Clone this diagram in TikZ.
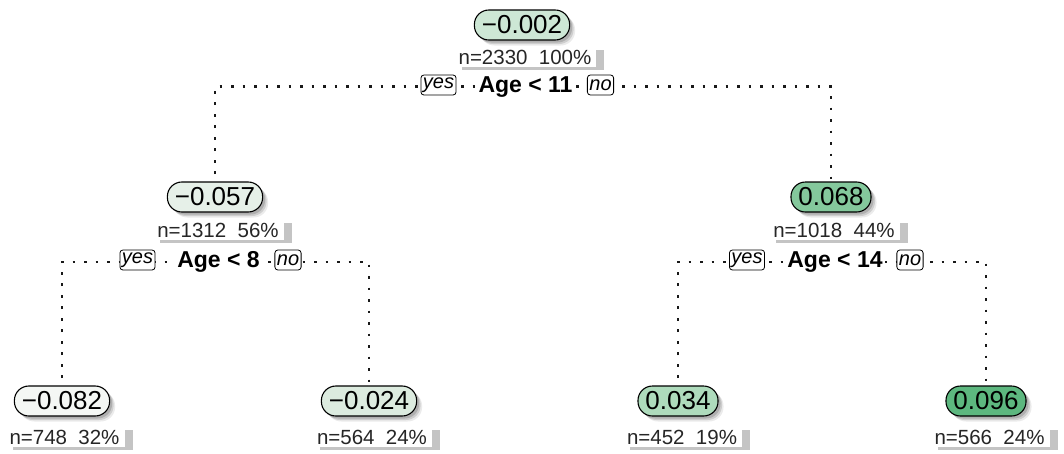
\documentclass[tikz,border=0pt]{standalone}
\usepackage{fontspec}
\setmainfont{Liberation Sans}
\usetikzlibrary{shadows}

% fill colours of the fitted values, from low to high
\definecolor{fitA}{HTML}{F4F7F4}
\definecolor{fitB}{HTML}{E6F0E8}
\definecolor{fitC}{HTML}{DCEBDF}
\definecolor{fitD}{HTML}{CDE7D5}
\definecolor{fitE}{HTML}{AEDBBC}
\definecolor{fitF}{HTML}{84C89C}
\definecolor{fitG}{HTML}{5DB77F}

\tikzset{
  fitbox/.style={
    rectangle, rounded corners=14.5pt, draw=black, line width=1.1pt,
    inner xsep=7.5pt, inner ysep=0pt, minimum height=30pt,
    font=\fontsize{26}{28}\selectfont,
    general shadow={fill=black, opacity=0.08, shadow xshift=5.5pt, shadow yshift=-5.5pt},
    general shadow={fill=black, opacity=0.12, shadow xshift=4pt, shadow yshift=-4pt},
    general shadow={fill=black, opacity=0.15, shadow xshift=2.5pt, shadow yshift=-2.5pt}},
  statbox/.style={
    rectangle, fill=white, inner xsep=5pt, inner ysep=3pt,
    text=black!85, font=\fontsize{20.5}{22}\selectfont,
    general shadow={fill=black!23, shadow xshift=8pt, shadow yshift=-3pt}},
  splitlabel/.style={
    anchor=base, fill=white, inner xsep=2pt, inner ysep=1pt,
    font=\bfseries\fontsize{23}{25}\selectfont},
  answer/.style={
    draw=black, rounded corners=3pt, line width=0.8pt, fill=white,
    inner xsep=2pt, inner ysep=1pt, minimum height=20pt,
    font=\itshape\fontsize{20}{21}\selectfont},
  branch/.style={line width=2.7pt, dash pattern=on 2.7pt off 8.8pt, black!90}
}

\begin{document}
\begin{tikzpicture}[x=1pt, y=-1pt]
\useasboundingbox (0,0) rectangle (1064,453);

% split points on the horizontal branches
\coordinate (s1) at (522,86.5);
\coordinate (s2) at (215,262);
\coordinate (s3) at (831,262);

% node positions (needed before the branches are drawn)
\path (522,25) coordinate (p1)
      (215,197) coordinate (p2)
      (831,197) coordinate (p3)
      (62,401) coordinate (p4)
      (369,401) coordinate (p5)
      (678,401) coordinate (p6)
      (986,401) coordinate (p7);

% branches
\draw[branch] (p2) |- (s1) -| (p3);
\draw[branch] (p4) |- (s2) -| (p5);
\draw[branch] (p6) |- (s3) -| (p7);

% fitted values
\node[fitbox, fill=fitD] (n1) at (p1) {−0.002};
\node[fitbox, fill=fitB] (n2) at (p2) {−0.057};
\node[fitbox, fill=fitF] (n3) at (p3) {0.068};
\node[fitbox, fill=fitA] (n4) at (p4) {−0.082};
\node[fitbox, fill=fitC] (n5) at (p5) {−0.024};
\node[fitbox, fill=fitE] (n6) at (p6) {0.034};
\node[fitbox, fill=fitG] (n7) at (p7) {0.096};

% observation counts and shares
\node[statbox] (t1) at (525,57) {n=2330\ \ 100\%\hspace{9pt}};
\node[statbox] (t2) at (218,230) {n=1312\ \ 56\%\hspace{9pt}};
\node[statbox] (t3) at (834,230) {n=1018\ \ 44\%\hspace{9pt}};
\node[statbox] (t4) at (64.5,437) {n=748\ \ 32\%\hspace{9pt}};
\node[statbox] (t5) at (372,437) {n=564\ \ 24\%\hspace{9pt}};
\node[statbox] (t6) at (682,437) {n=452\ \ 19\%\hspace{9pt}};
\node[statbox] (t7) at (989.5,437) {n=566\ \ 24\%\hspace{9pt}};

% split rules
\node[splitlabel] (c1) at (525.5,92) {Age < 11};
\node[answer] (y1) at (438.5,85) {yes};
\node[answer] (o1) at (600.5,85) {no};

\node[splitlabel] (c2) at (218.5,267) {Age < 8};
\node[answer] (y2) at (137.5,260) {yes};
\node[answer] (o2) at (288,260) {no};

\node[splitlabel] (c3) at (835,267) {Age < 14};
\node[answer] (y3) at (747,260) {yes};
\node[answer] (o3) at (910,260) {no};
\end{tikzpicture}
\end{document}
